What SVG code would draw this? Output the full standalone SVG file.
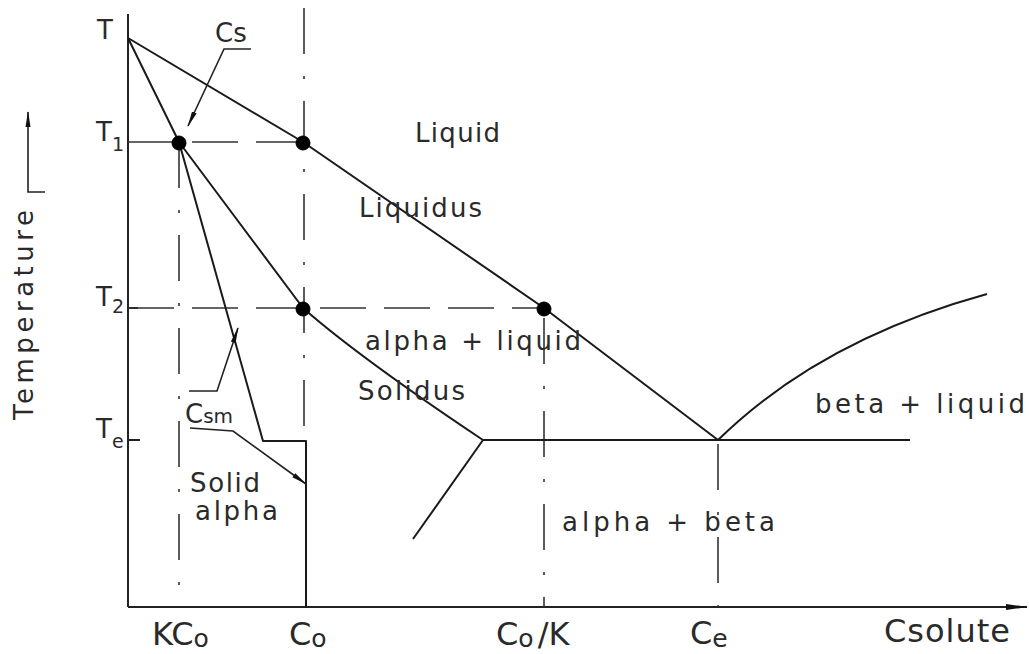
<svg xmlns="http://www.w3.org/2000/svg" width="1029" height="654" viewBox="0 0 1029 654">
<defs>
<marker id="ah" markerWidth="16" markerHeight="8" refX="15" refY="4" orient="auto" markerUnits="userSpaceOnUse"><path d="M0,1.5 L16,4 L0,6.5 z" fill="#111"/></marker>
<marker id="axh" markerWidth="22" markerHeight="8" refX="21" refY="4" orient="auto" markerUnits="userSpaceOnUse"><path d="M0,1 L22,4 L0,7 z" fill="#111"/></marker>
</defs>
<style>
.ax{stroke:#222;stroke-width:2;fill:none}
.ln{stroke:#1a1a1a;stroke-width:2;fill:none;stroke-linejoin:round}
.lead{stroke:#222;stroke-width:1.6;fill:none}
.dv{stroke:#333;stroke-width:1.6;stroke-dasharray:46,22,3,22;fill:none}
.dh{stroke:#333;stroke-width:1.6;stroke-dasharray:46,18;fill:none}
.t{font-family:"DejaVu Sans",sans-serif;fill:#2a2a2a;font-size:26px}
.xl{font-family:"DejaVu Sans",sans-serif;fill:#2a2a2a;font-size:32px}
.pt{fill:#000;stroke:#000;stroke-width:1}
</style>
<rect width="1029" height="654" fill="#fff"/>
<g id="axes">
<line class="ax" x1="128" y1="14" x2="128" y2="607"/>
<line class="ax" x1="128" y1="607" x2="1027" y2="607" marker-end="url(#axh)"/>
<line class="ax" x1="128" y1="308" x2="138" y2="308"/>
<line class="ax" x1="128" y1="440" x2="140" y2="440"/>
<path class="lead" d="M45,192 L28,192 L28,112" marker-end="url(#ah)"/>
</g>
<g id="guides">
<line class="dh" x1="128" y1="142" x2="304" y2="142"/>
<line class="dh" x1="128" y1="308" x2="544" y2="308"/>
<line class="dv" x1="179" y1="142" x2="179" y2="607"/>
<line class="dv" x1="304" y1="8" x2="304" y2="441"/>
<line class="dv" x1="544" y1="308" x2="544" y2="607" style="stroke-dashoffset:-10"/>
<line class="dv" x1="718" y1="440" x2="718" y2="607" style="stroke-dashoffset:-4"/>
</g>
<g id="connectors">
<polyline id="liquidus" class="ln" points="128,38 303,142 544,308 718,440"/>
<path id="solidus" class="ln" d="M128,38 L179,142 L303,308 Q360,358 483,440"/>
<polyline id="csm-line" class="ln" points="179,142 263,441 306,441 306,607"/>
<path id="liquidus-beta" class="ln" d="M718,440 Q820,340 987,294"/>
<line id="eutectic" class="ln" x1="483" y1="440" x2="910" y2="440"/>
<line id="solvus" class="ln" x1="483" y1="440" x2="413" y2="539"/>
<path id="cs-leader" class="lead" d="M251,49 L224,49 L188,126" marker-end="url(#ah)"/>
<path id="csm-leader1" class="lead" d="M189,391 L217,391 L238,328" marker-end="url(#ah)"/>
<path id="csm-leader2" class="lead" d="M190,428 L233,431 L306,484" marker-end="url(#ah)"/>
</g>
<g id="points">
<circle class="pt" cx="179" cy="143" r="7"/>
<circle class="pt" cx="303" cy="143" r="7"/>
<circle class="pt" cx="303" cy="309" r="7"/>
<circle class="pt" cx="544" cy="309" r="7"/>
</g>
<g id="labels">
<text class="t" x="97" y="39" font-size="21">T</text>
<text class="t" x="96" y="141" font-size="21">T<tspan font-size="19" dy="10">1</tspan></text>
<text class="t" x="96" y="306" font-size="21">T<tspan font-size="19" dy="7">2</tspan></text>
<text class="t" x="96" y="438" font-size="21">T<tspan font-size="19" dy="10">e</tspan></text>
<text class="t" transform="translate(33,315) rotate(-90)" text-anchor="middle" textLength="210" lengthAdjust="spacing">Temperature</text>
<text class="t" x="215" y="42" font-size="27">Cs</text>
<text class="t" x="185" y="423" font-size="27">C<tspan font-size="20">sm</tspan></text>
<text class="t" x="415" y="142" textLength="85">Liquid</text>
<text class="t" x="359" y="217" textLength="123">Liquidus</text>
<text class="t" x="365" y="350" textLength="216">alpha + liquid</text>
<text class="t" x="358" y="400" textLength="107">Solidus</text>
<text class="t" x="190" y="492" textLength="70">Solid</text>
<text class="t" x="195" y="520" textLength="83">alpha</text>
<text class="t" x="815" y="413" textLength="210">beta + liquid</text>
<text class="t" x="562" y="531" textLength="213">alpha + beta</text>
<text class="xl" x="152" y="645">KC<tspan font-size="25" dy="2">o</tspan></text>
<text class="xl" x="289" y="645">C<tspan font-size="25" dy="2">o</tspan></text>
<text class="xl" x="496" y="645">C<tspan font-size="25" dy="2">o</tspan><tspan dy="-2" dx="4">/K</tspan></text>
<text class="xl" x="690" y="644">C<tspan font-size="25" dy="3">e</tspan></text>
<text class="xl" x="884" y="642" textLength="126">Csolute</text>
</g>
</svg>
